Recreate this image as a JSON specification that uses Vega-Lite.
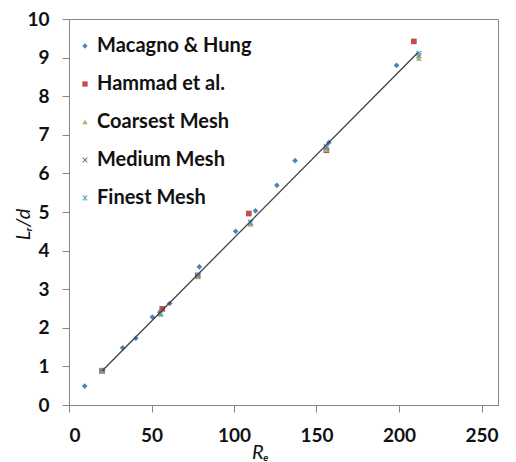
{
  "$schema": "https://vega.github.io/schema/vega-lite/v6.json",
  "width": 429,
  "height": 386,
  "autosize": "none",
  "padding": {"left": 69, "top": 19, "right": 18, "bottom": 57},
  "background": "white",
  "config": {
    "view": {"stroke": "#868686", "strokeWidth": 1},
    "font": "Lato",
    "axis": {
      "domainColor": "#868686", "tickColor": "#868686", "grid": false,
      "labelFont": "Lato", "labelFontSize": 19, "labelFontWeight": "bold", "labelColor": "#111",
      "tickSize": 7, "titleFont": "Lato", "titleFontSize": 20, "titleFontWeight": "normal",
      "titleFontStyle": "italic", "titleColor": "#111"
    }
  },
  "datasets": {
    "pts": [
      {"s": "Macagno & Hung", "x": 9.5, "y": 0.49},
      {"s": "Macagno & Hung", "x": 20.5, "y": 0.9},
      {"s": "Macagno & Hung", "x": 32.5, "y": 1.48},
      {"s": "Macagno & Hung", "x": 40.5, "y": 1.73},
      {"s": "Macagno & Hung", "x": 50.5, "y": 2.28},
      {"s": "Macagno & Hung", "x": 55, "y": 2.4},
      {"s": "Macagno & Hung", "x": 61, "y": 2.63},
      {"s": "Macagno & Hung", "x": 79, "y": 3.58},
      {"s": "Macagno & Hung", "x": 101, "y": 4.5},
      {"s": "Macagno & Hung", "x": 113, "y": 5.03},
      {"s": "Macagno & Hung", "x": 126, "y": 5.69},
      {"s": "Macagno & Hung", "x": 137, "y": 6.33},
      {"s": "Macagno & Hung", "x": 157.5, "y": 6.8},
      {"s": "Macagno & Hung", "x": 198.5, "y": 8.8},
      {"s": "Hammad et al.", "x": 20, "y": 0.88},
      {"s": "Hammad et al.", "x": 56.5, "y": 2.49},
      {"s": "Hammad et al.", "x": 78, "y": 3.35},
      {"s": "Hammad et al.", "x": 109, "y": 4.96},
      {"s": "Hammad et al.", "x": 156, "y": 6.6},
      {"s": "Hammad et al.", "x": 209, "y": 9.42},
      {"s": "Coarsest Mesh", "x": 20, "y": 0.87},
      {"s": "Coarsest Mesh", "x": 55.5, "y": 2.35},
      {"s": "Coarsest Mesh", "x": 78, "y": 3.32},
      {"s": "Coarsest Mesh", "x": 110, "y": 4.68},
      {"s": "Coarsest Mesh", "x": 156, "y": 6.62},
      {"s": "Coarsest Mesh", "x": 212, "y": 8.98},
      {"s": "Medium Mesh", "x": 20, "y": 0.89},
      {"s": "Medium Mesh", "x": 55.5, "y": 2.37},
      {"s": "Medium Mesh", "x": 78, "y": 3.35},
      {"s": "Medium Mesh", "x": 110, "y": 4.72},
      {"s": "Medium Mesh", "x": 156, "y": 6.67},
      {"s": "Medium Mesh", "x": 212, "y": 9.05},
      {"s": "Finest Mesh", "x": 20, "y": 0.9},
      {"s": "Finest Mesh", "x": 55.5, "y": 2.38},
      {"s": "Finest Mesh", "x": 78, "y": 3.37},
      {"s": "Finest Mesh", "x": 110, "y": 4.74},
      {"s": "Finest Mesh", "x": 156, "y": 6.7},
      {"s": "Finest Mesh", "x": 212, "y": 9.11}
    ],
    "fit": [
      {"x": 20, "y": 0.88},
      {"x": 211.5, "y": 9.13}
    ]
  },
  "layer": [
    {
      "data": {"name": "pts"},
      "mark": {"type": "point", "filled": true, "opacity": 1, "size": 32},
      "encoding": {
        "x": {"field": "x", "type": "quantitative", "scale": {"domain": [0, 250]},
              "axis": {"tickCount": 5, "title": "Rₑ", "titlePadding": -3, "labelPadding": 14,
                       "titleX": 191, "titleAlign": "center"}},
        "y": {"field": "y", "type": "quantitative", "scale": {"domain": [0, 10]},
              "axis": {"tickCount": 10, "tickMinStep": 1, "labelOverlap": false, "title": "Lᵣ/d", "labelPadding": 13,
                       "titleX": -46, "titleY": 205, "titleAlign": "center", "titleBaseline": "middle"}},
        "color": {"field": "s", "type": "nominal",
          "scale": {"domain": ["Macagno & Hung", "Hammad et al.", "Coarsest Mesh", "Medium Mesh", "Finest Mesh"],
                    "range": ["#4F81BD", "#C0504D", "#9BBB59", "#8064A2", "#4BACC6"]},
          "legend": {"title": null, "orient": "none", "legendX": 6, "legendY": 17,
                     "labelFont": "Lato", "labelFontSize": 20, "labelFontWeight": "bold", "labelColor": "#111", "symbolSize": 28,
                     "rowPadding": 18, "labelOffset": 2, "symbolStrokeWidth": 0}},
        "shape": {"field": "s", "type": "nominal",
          "scale": {"domain": ["Macagno & Hung", "Hammad et al.", "Coarsest Mesh", "Medium Mesh", "Finest Mesh"],
                    "range": ["diamond", "square", "triangle-up",
                              "M-1,-0.75L-0.75,-1L0,-0.25L0.75,-1L1,-0.75L0.25,0L1,0.75L0.75,1L0,0.25L-0.75,1L-1,0.75L-0.25,0Z",
                              "M-1,-0.75L-0.75,-1L-0.12,-0.37L-0.12,-1L0.12,-1L0.12,-0.37L0.75,-1L1,-0.75L0.25,0L1,0.75L0.75,1L0.12,0.37L0.12,1L-0.12,1L-0.12,0.37L-0.75,1L-1,0.75L-0.25,0Z"]},
          "legend": null}
      }
    },
    {
      "data": {"name": "fit"},
      "mark": {"type": "line", "color": "#404040", "strokeWidth": 1.3},
      "encoding": {
        "x": {"field": "x", "type": "quantitative"},
        "y": {"field": "y", "type": "quantitative"}
      }
    }
  ]
}
